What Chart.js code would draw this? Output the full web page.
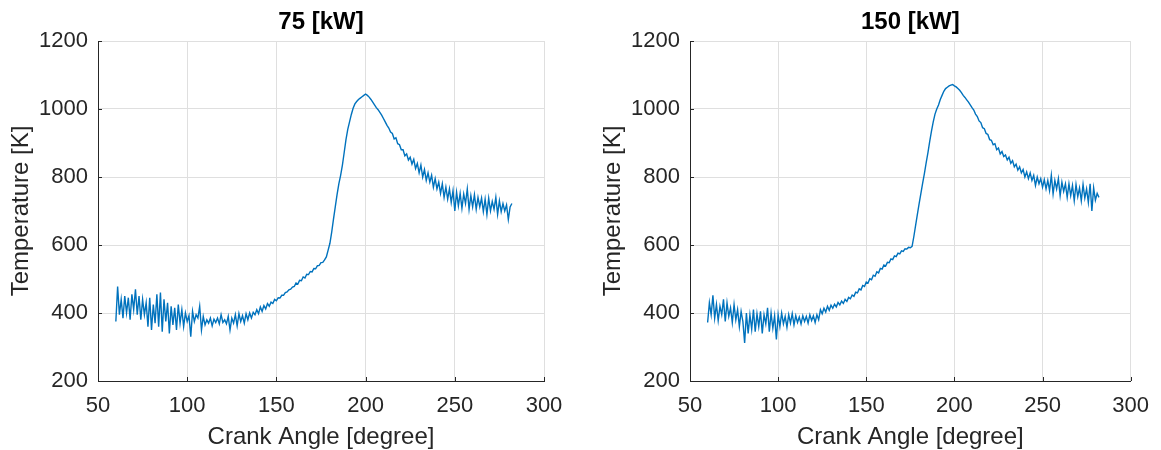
<!DOCTYPE html>
<html>
<head>
<meta charset="utf-8">
<script src="https://cdn.jsdelivr.net/npm/chart.js@4.4.1/dist/chart.umd.min.js"></script>
<style>
  html, body { margin: 0; padding: 0; background: #ffffff; }
  #wrap { position: relative; width: 1161px; height: 450px; overflow: hidden; }
  canvas { position: absolute; top: 0; }
</style>
</head>
<body>
<div id="wrap">
  <canvas id="c75" width="580" height="450" style="left:0px"></canvas>
  <canvas id="c150" width="569" height="450" style="left:592px"></canvas>
</div>
<script>
// Crank angle samples [degree]
const crankAngle = [
  60, 61, 62, 63, 64, 65, 66, 67, 68, 69, 70, 71, 72, 73, 74, 75, 76, 77, 78, 79,
  80, 81, 82, 83, 84, 85, 86, 87, 88, 89, 90, 91, 92, 93, 94, 95, 96, 97, 98, 99,
  100, 101, 102, 103, 104, 105, 106, 107, 108, 109, 110, 111, 112, 113, 114, 115, 116, 117, 118, 119,
  120, 121, 122, 123, 124, 125, 126, 127, 128, 129, 130, 131, 132, 133, 134, 135, 136, 137, 138, 139,
  140, 141, 142, 143, 144, 145, 146, 147, 148, 149, 150, 151, 152, 153, 154, 155, 156, 157, 158, 159,
  160, 161, 162, 163, 164, 165, 166, 167, 168, 169, 170, 171, 172, 173, 174, 175, 176, 177, 178, 179,
  180, 181, 182, 183, 184, 185, 186, 187, 188, 189, 190, 191, 192, 193, 194, 195, 196, 197, 198, 199,
  200, 201, 202, 203, 204, 205, 206, 207, 208, 209, 210, 211, 212, 213, 214, 215, 216, 217, 218, 219,
  220, 221, 222, 223, 224, 225, 226, 227, 228, 229, 230, 231, 232, 233, 234, 235, 236, 237, 238, 239,
  240, 241, 242, 243, 244, 245, 246, 247, 248, 249, 250, 251, 252, 253, 254, 255, 256, 257, 258, 259,
  260, 261, 262, 263, 264, 265, 266, 267, 268, 269, 270, 271, 272, 273, 274, 275, 276, 277, 278, 279,
  280, 281, 282
];

// Gas temperature at 75 kW [K]
const temp75 = [
  375, 478, 395, 440, 385, 450, 400, 445, 380, 455, 410, 470, 395, 450, 380, 440, 395, 430, 360, 445,
  350, 425, 370, 455, 360, 460, 345, 440, 375, 430, 340, 420, 365, 415, 350, 425, 370, 410, 360, 400,
  375, 392, 330, 405, 375, 395, 385, 420, 350, 390, 365, 380, 370, 385, 362, 382, 372, 385, 368, 395,
  372, 380, 368, 390, 350, 385, 370, 395, 362, 398, 375, 392, 370, 398, 380, 400, 385, 402, 395, 410,
  398, 418, 405, 422, 412, 428, 420, 432, 428, 440, 436, 445, 444, 452, 452, 460, 462, 468, 470, 476,
  478, 488, 485, 496, 495, 506, 503, 514, 513, 522, 521, 531, 530, 539, 540, 548, 549, 556, 565, 585,
  605, 638, 676, 712, 748, 780, 805, 835, 872, 910, 940, 962, 984, 1002, 1015, 1022, 1028, 1032, 1036, 1040,
  1044, 1040, 1035, 1028, 1020, 1012, 1004, 998, 990, 982, 972, 962, 952, 944, 932, 928, 912, 915, 898, 895,
  880, 880, 862, 868, 850, 858, 838, 852, 825, 840, 812, 835, 800, 822, 790, 812, 785, 805, 770, 795,
  765, 785, 752, 780, 740, 770, 735, 765, 725, 760, 700, 755, 715, 752, 708, 750, 722, 765, 705, 745,
  712, 748, 705, 740, 712, 738, 698, 735, 690, 738, 700, 728, 705, 740, 690, 730, 698, 722, 700, 718,
  675, 712, 722
];

// Gas temperature at 150 kW [K]
const temp150 = [
  372, 430, 395, 452, 385, 425, 378, 420, 395, 440, 375, 430, 390, 415, 372, 425, 380, 410, 360, 405,
  375, 312, 400, 340, 395, 352, 410, 345, 398, 360, 405, 340, 395, 368, 415, 345, 400, 355, 392, 322,
  395, 360, 400, 368, 390, 358, 395, 370, 398, 365, 392, 372, 388, 368, 392, 375, 390, 370, 395, 378,
  392, 372, 395, 380, 410, 398, 414, 403, 420, 408, 423, 414, 426, 418, 431, 424, 435, 428, 440, 434,
  446, 442, 453, 449, 461, 459, 471, 468, 481, 478, 491, 488, 501, 498, 511, 508, 521, 518, 531, 529,
  541, 538, 549, 548, 559, 557, 568, 566, 576, 574, 583, 581, 589, 588, 593, 592, 596, 625, 658, 690,
  722, 752, 782, 811, 842, 872, 905, 935, 962, 985, 1000, 1012, 1028, 1040, 1052, 1060, 1064, 1068, 1070, 1072,
  1068, 1065, 1060, 1055, 1048, 1040, 1034, 1027, 1020, 1012, 1004, 997, 985, 978, 965, 960, 945, 942, 928, 925,
  910, 908, 895, 898, 880, 885, 868, 875, 860, 865, 850, 858, 840, 848, 830, 838, 820, 830, 812, 822,
  800, 815, 795, 812, 790, 805, 775, 800, 780, 795, 770, 792, 765, 790, 760, 805, 750, 790, 765, 795,
  745, 785, 758, 780, 740, 780, 745, 775, 730, 778, 742, 768, 730, 778, 738, 765, 725, 780, 700, 768,
  732, 752, 740
];

// Axis tick values
const angleTicks = [50, 100, 150, 200, 250, 300];
const tempTicks = [200, 400, 600, 800, 1000, 1200];

const FONT = "'Liberation Sans', Arial, Helvetica, sans-serif";
const INK = '#262626';
const GRID = '#dfdfdf';
const LINE = '#0072BD';

// Inward tick marks and the bold panel title
const panelDecor = {
  id: 'panelDecor',
  afterDraw(chart, args, opts) {
    const { ctx, chartArea: a, scales: { x, y } } = chart;
    ctx.save();
    ctx.strokeStyle = INK;
    ctx.lineWidth = 1;
    ctx.beginPath();
    x.ticks.forEach(t => {
      const px = Math.round(x.getPixelForValue(t.value)) + 0.5;
      ctx.moveTo(px, a.bottom);
      ctx.lineTo(px, a.bottom - 4);
    });
    y.ticks.forEach(t => {
      const py = Math.round(y.getPixelForValue(t.value)) + 0.5;
      ctx.moveTo(a.left, py);
      ctx.lineTo(a.left + 4, py);
    });
    ctx.stroke();
    ctx.fillStyle = '#000000';
    ctx.font = 'bold 24px ' + FONT;
    ctx.textAlign = 'center';
    ctx.textBaseline = 'middle';
    ctx.fillText(opts.text, (a.left + a.right) / 2, 22);
    ctx.restore();
  }
};

function makePanel(canvasId, title, temps, rightPad) {
  const points = crankAngle.map((a, i) => ({ x: a, y: temps[i] }));
  return new Chart(document.getElementById(canvasId), {
    type: 'line',
    data: {
      datasets: [{
        data: points,
        borderColor: LINE,
        borderWidth: 1.4,
        pointRadius: 0,
        fill: false,
        tension: 0
      }]
    },
    options: {
      responsive: false,
      animation: false,
      devicePixelRatio: 1,
      layout: { padding: { left: 0, right: rightPad, top: 41, bottom: 0 } },
      plugins: {
        legend: { display: false },
        tooltip: { enabled: false },
        panelDecor: { text: title }
      },
      scales: {
        x: {
          type: 'linear',
          min: 50,
          max: 300,
          afterBuildTicks: s => { s.ticks = angleTicks.map(v => ({ value: v })); },
          afterFit: s => { s.height = 69; },
          grid: { color: GRID, lineWidth: 1, drawTicks: false },
          border: { color: INK, width: 1 },
          ticks: {
            color: INK,
            font: { family: FONT, size: 22 },
            padding: 12,
            maxRotation: 0,
            autoSkip: false,
            callback: v => String(v)
          },
          title: {
            display: true,
            text: 'Crank Angle [degree]',
            color: INK,
            font: { family: FONT, size: 24, lineHeight: 1 },
            padding: { top: 0, bottom: 1 }
          }
        },
        y: {
          type: 'linear',
          min: 200,
          max: 1200,
          afterBuildTicks: s => { s.ticks = tempTicks.map(v => ({ value: v })); },
          afterFit: s => { s.width = 98; },
          grid: { color: GRID, lineWidth: 1, drawTicks: false },
          border: { color: INK, width: 1 },
          ticks: {
            color: INK,
            font: { family: FONT, size: 22 },
            padding: 10,
            autoSkip: false,
            callback: v => String(v)
          },
          title: {
            display: true,
            text: 'Temperature [K]',
            color: INK,
            font: { family: FONT, size: 24, lineHeight: 1 },
            padding: { top: 9, bottom: 0 }
          }
        }
      }
    },
    plugins: [panelDecor]
  });
}

makePanel('c75', '75 [kW]', temp75, 36);
makePanel('c150', '150 [kW]', temp150, 26);
</script>
</body>
</html>
